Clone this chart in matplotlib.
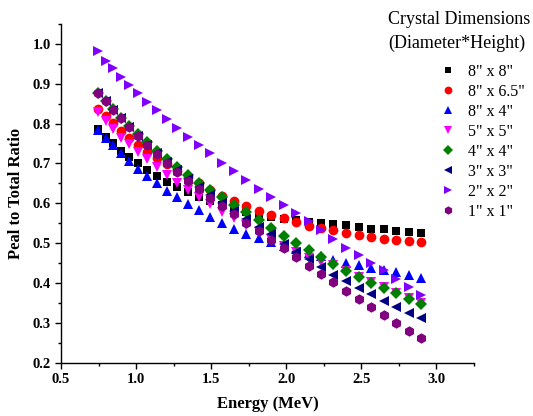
import matplotlib
matplotlib.use("Agg")
import matplotlib.pyplot as plt

energy = [0.748, 0.798, 0.848, 0.900, 0.954, 1.012, 1.072, 1.136, 1.203, 1.272,
          1.344, 1.418, 1.495, 1.573, 1.653, 1.734, 1.816, 1.899, 1.982, 2.065,
          2.148, 2.231, 2.314, 2.398, 2.481, 2.564, 2.648, 2.732, 2.815, 2.899]

s8x8 = [0.786, 0.767, 0.751, 0.732, 0.716, 0.700, 0.684, 0.669, 0.654, 0.641,
        0.628, 0.616, 0.605, 0.595, 0.586, 0.578, 0.571, 0.566, 0.561, 0.557,
        0.553, 0.551, 0.548, 0.545, 0.540, 0.536, 0.535, 0.531, 0.528, 0.525]
s8x65 = [0.837, 0.820, 0.802, 0.782, 0.764, 0.746, 0.730, 0.714, 0.698, 0.682,
         0.666, 0.650, 0.634, 0.618, 0.605, 0.593, 0.580, 0.571, 0.562, 0.554,
         0.544, 0.539, 0.533, 0.526, 0.521, 0.515, 0.511, 0.508, 0.506, 0.502]
s8x4 = [0.784, 0.763, 0.746, 0.727, 0.705, 0.685, 0.669, 0.650, 0.632, 0.615,
        0.598, 0.582, 0.566, 0.550, 0.536, 0.523, 0.512, 0.503, 0.494, 0.485,
        0.476, 0.467, 0.458, 0.451, 0.445, 0.437, 0.433, 0.428, 0.421, 0.413]
s5x5 = [0.828, 0.807, 0.786, 0.765, 0.748, 0.730, 0.711, 0.690, 0.671, 0.652,
        0.634, 0.617, 0.598, 0.578, 0.562, 0.545, 0.528, 0.510, 0.494, 0.478,
        0.464, 0.453, 0.445, 0.430, 0.416, 0.402, 0.389, 0.376, 0.363, 0.350]
s4x4 = [0.878, 0.857, 0.836, 0.815, 0.794, 0.773, 0.754, 0.731, 0.711, 0.690,
        0.670, 0.650, 0.634, 0.617, 0.596, 0.577, 0.558, 0.537, 0.518, 0.500,
        0.483, 0.466, 0.448, 0.431, 0.414, 0.399, 0.387, 0.374, 0.361, 0.348]
s3x3 = [0.876, 0.856, 0.834, 0.813, 0.791, 0.769, 0.747, 0.726, 0.704, 0.683,
        0.662, 0.641, 0.620, 0.600, 0.580, 0.560, 0.541, 0.522, 0.499, 0.479,
        0.460, 0.440, 0.420, 0.404, 0.388, 0.372, 0.356, 0.340, 0.325, 0.311]
s2x2 = [0.981, 0.958, 0.939, 0.918, 0.897, 0.876, 0.855, 0.834, 0.811, 0.788,
        0.767, 0.746, 0.726, 0.702, 0.681, 0.659, 0.636, 0.615, 0.595, 0.575,
        0.556, 0.533, 0.510, 0.487, 0.470, 0.451, 0.433, 0.409, 0.391, 0.370]
s1x1 = [0.878, 0.858, 0.834, 0.813, 0.791, 0.769, 0.746, 0.724, 0.701, 0.679,
        0.657, 0.636, 0.613, 0.594, 0.572, 0.551, 0.530, 0.508, 0.487, 0.466,
        0.443, 0.423, 0.403, 0.381, 0.360, 0.339, 0.320, 0.299, 0.280, 0.262]

labels = ['8" x 8"', '8" x 6.5"', '8" x 4"', '5" x 5"', '4" x 4"', '3" x 3"', '2" x 2"', '1" x 1"']
series = [s8x8, s8x65, s8x4, s5x5, s4x4, s3x3, s2x2, s1x1]
colors = ['#000000', '#ff0000', '#0000ff', '#ff00ff', '#008000', '#000080', '#8000ff', '#800080']
markers = ['s', 'o', '^', 'v', 'D', '<', '>', 'h']
msizes = [6, 7, 7.5, 7.5, 6, 7.5, 7.5, 7.5]

plt.rcParams['font.family'] = ['Liberation Serif', 'DejaVu Serif']

fig = plt.figure(figsize=(5.33, 4.16), dpi=100)
ax = fig.add_axes([0.1144, 0.1281, 0.775, 0.8142])

handles = []
for ys, c, m, ms, lab in zip(series, colors, markers, msizes, labels):
    h, = ax.plot(energy, ys, linestyle='none', marker=m, color=c,
                 markersize=ms, markeredgewidth=0, label=lab)
    handles.append(h)

ax.set_xlim(0.5, 3.25)
ax.set_ylim(0.2, 1.05)
ax.set_xticks([0.5, 1.0, 1.5, 2.0, 2.5, 3.0])
ax.set_xticks([0.75, 1.25, 1.75, 2.25, 2.75, 3.25], minor=True)
ax.set_yticks([0.2, 0.3, 0.4, 0.5, 0.6, 0.7, 0.8, 0.9, 1.0])
ax.set_yticks([0.25, 0.35, 0.45, 0.55, 0.65, 0.75, 0.85, 0.95, 1.05], minor=True)
ax.set_xticklabels(['0.5', '1.0', '1.5', '2.0', '2.5', '3.0'])
ax.set_yticklabels(['0.2', '0.3', '0.4', '0.5', '0.6', '0.7', '0.8', '0.9', '1.0'])
for lab in ax.get_xticklabels() + ax.get_yticklabels():
    lab.set_fontweight('bold')
    lab.set_fontsize(10.5)
ax.tick_params(which='major', direction='out', length=4.5, width=1.0, pad=3)
ax.tick_params(which='minor', direction='out', length=2.5, width=1.0)
ax.spines['top'].set_visible(False)
ax.spines['right'].set_visible(False)
ax.spines['left'].set_linewidth(1.0)
ax.spines['bottom'].set_linewidth(1.0)

ax.set_xlabel('Energy (MeV)', fontsize=12, fontweight='bold', labelpad=7)
ax.set_ylabel('Peal to Total Ratio', fontsize=12, fontweight='bold', labelpad=6)

fig.text(388 / 533, 1 - 20 / 416, 'Crystal Dimensions', fontsize=13, ha='left', va='center')
fig.text(388 / 533, 1 - 43 / 416, '(Diameter*Height)', fontsize=13, ha='left', va='center')

leg = fig.legend(handles=handles, labels=labels, loc='upper left',
                 bbox_to_anchor=(0.810, 1 - 56 / 416), frameon=False,
                 fontsize=11.5, handlelength=1.0, handletextpad=0.75,
                 labelspacing=0.25, borderpad=0, markerscale=0.8)

fig.savefig('out.png', dpi=100)
